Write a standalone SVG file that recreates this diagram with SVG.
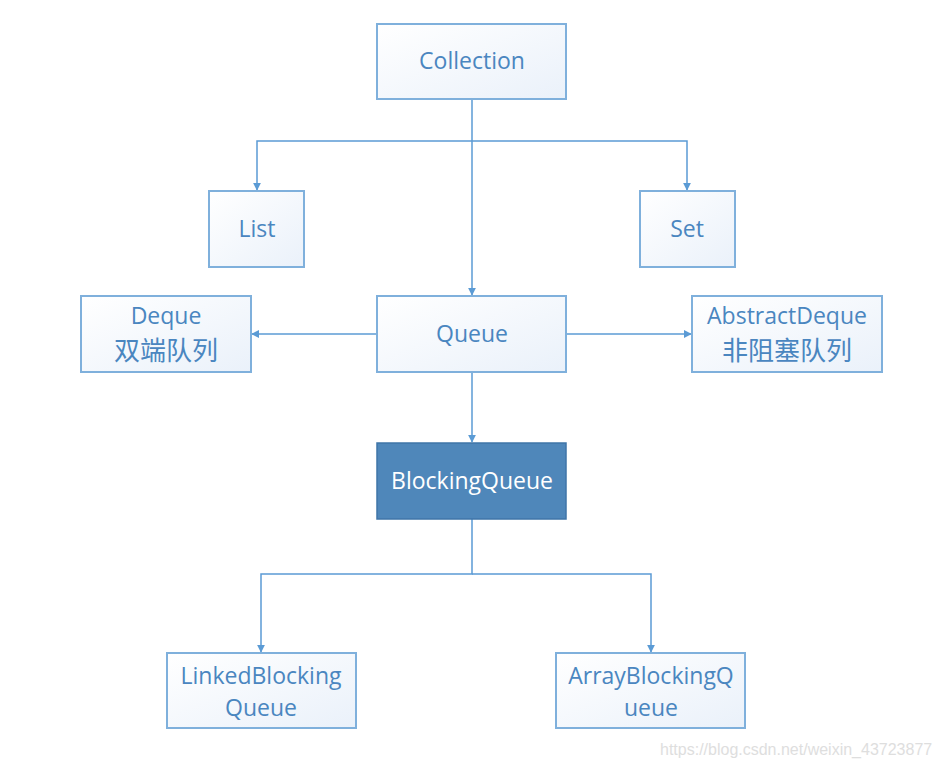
<svg xmlns="http://www.w3.org/2000/svg" width="940" height="768" viewBox="0 0 940 768">
<style>
.box{fill:url(#g);stroke:#7fb0dc;stroke-width:2}
.dark{fill:#4f87ba;stroke:#3f75a8;stroke-width:1.5}
.t{font-family:"Open Sans","Noto Sans CJK SC",sans-serif;font-size:23px;fill:#4a86c0;text-anchor:middle}
.cjk{font-family:"Noto Sans CJK SC",sans-serif;font-size:26px;font-weight:400;fill:#4a86c0;text-anchor:middle}
.tw{font-family:"Open Sans",sans-serif;font-size:23px;fill:#ffffff;text-anchor:middle}
.c{fill:none;stroke:#5b9bd5;stroke-width:1.5}
.wm{font-family:"Liberation Sans",Arial,sans-serif;font-size:16px;fill:#dedede}
</style>
<defs>
<linearGradient id="g" x1="0" y1="0" x2="1" y2="1">
<stop offset="0" stop-color="#ffffff"/>
<stop offset="1" stop-color="#eaf1fa"/>
</linearGradient>
<marker id="a" viewBox="0 0 10 10" refX="9" refY="5" markerWidth="8" markerHeight="8" orient="auto" markerUnits="userSpaceOnUse">
<path d="M0,0 L10,5 L0,10 z" fill="#5b9bd5"/>
</marker>
</defs>
<rect width="940" height="768" fill="#ffffff"/>
<g id="connectors">
<path class="c" d="M472,99 V295" marker-end="url(#a)"/>
<path class="c" d="M472,141 H257 V190" marker-end="url(#a)"/>
<path class="c" d="M472,141 H687 V190" marker-end="url(#a)"/>
<path class="c" d="M377,334 H252" marker-end="url(#a)"/>
<path class="c" d="M566,334 H691" marker-end="url(#a)"/>
<path class="c" d="M472,372 V442" marker-end="url(#a)"/>
<path class="c" d="M472,519 V574 H261 V652" marker-end="url(#a)"/>
<path class="c" d="M472,574 H651 V652" marker-end="url(#a)"/>
</g>
<g id="collection"><rect class="box" x="377" y="24" width="189" height="75"/><text class="t" x="472" y="69">Collection</text></g>
<g id="list"><rect class="box" x="209" y="191" width="95" height="76"/><text class="t" x="257" y="237">List</text></g>
<g id="set"><rect class="box" x="640" y="191" width="95" height="76"/><text class="t" x="687" y="237">Set</text></g>
<g id="deque"><rect class="box" x="81" y="296" width="170" height="76"/><text class="t" x="166" y="324">Deque</text><text class="cjk" x="166" y="360">双端队列</text></g>
<g id="queue"><rect class="box" x="377" y="296" width="189" height="76"/><text class="t" x="472" y="342">Queue</text></g>
<g id="abstractdeque"><rect class="box" x="692" y="296" width="190" height="76"/><text class="t" x="787" y="324">AbstractDeque</text><text class="cjk" x="787" y="360">非阻塞队列</text></g>
<g id="blockingqueue"><rect class="dark" x="377" y="443" width="189" height="76"/><text class="tw" x="472" y="489">BlockingQueue</text></g>
<g id="linked"><rect class="box" x="167" y="653" width="189" height="75"/><text class="t" x="261" y="684">LinkedBlocking</text><text class="t" x="261" y="716">Queue</text></g>
<g id="array"><rect class="box" x="556" y="653" width="189" height="75"/><text class="t" x="651" y="684">ArrayBlockingQ</text><text class="t" x="651" y="716">ueue</text></g>
<text class="wm" x="660" y="755">https://blog.csdn.net/weixin_43723877</text>
</svg>
